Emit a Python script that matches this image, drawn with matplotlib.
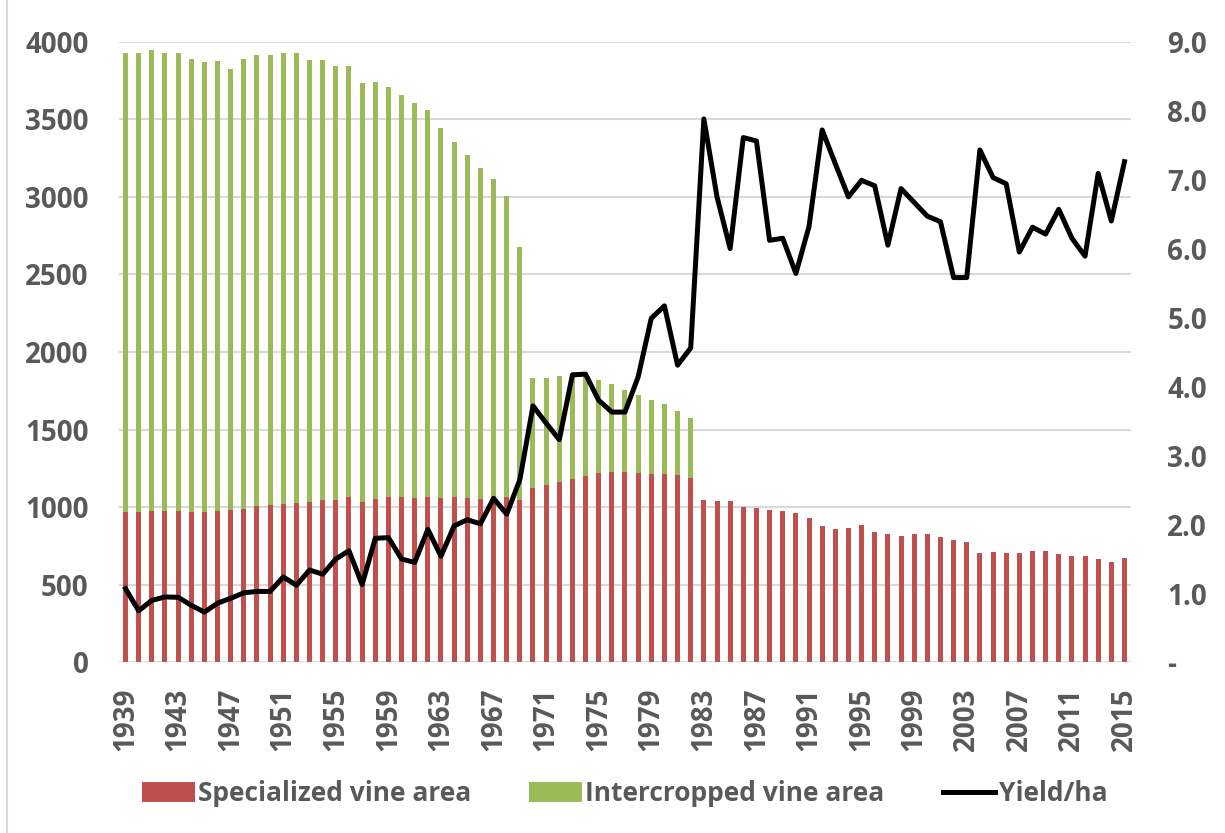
import numpy as np
import matplotlib
matplotlib.use("Agg")
import matplotlib.pyplot as plt
from matplotlib.lines import Line2D

plt.rcParams['font.family'] = ['Open Sans', 'DejaVu Sans']
plt.rcParams['font.weight'] = 'bold'

years = list(range(1939, 2016))

specialized = [967, 967, 978, 974, 978, 969, 969, 974, 984, 991,
               1008, 1014, 1023, 1025, 1036, 1047, 1047, 1068, 1036, 1053,
               1064, 1068, 1062, 1066, 1062, 1064, 1062, 1055, 1068, 1068,
               1047, 1126, 1143, 1163, 1182, 1201, 1219, 1227, 1227, 1221,
               1216, 1216, 1208, 1190, 1047, 1038, 1038, 1004, 993, 984,
               974, 961, 933, 879, 858, 866, 886, 839, 828, 817,
               826, 826, 806, 787, 778, 705, 710, 705, 703, 720,
               720, 701, 684, 684, 665, 647, 671]

intercropped = [2963, 2961, 2965, 2950, 2950, 2916, 2903, 2900, 2837, 2894,
                2905, 2903, 2907, 2905, 2845, 2834, 2797, 2776, 2699, 2688,
                2641, 2587, 2544, 2491, 2383, 2289, 2205, 2130, 2044, 1937,
                1629, 705, 688, 680, 668, 649, 599, 569, 526, 502,
                473, 447, 414, 383] + [0] * 33

yield_ha = [1.07, 0.75, 0.90, 0.95, 0.945, 0.83, 0.73, 0.86, 0.93, 1.01,
            1.03, 1.03, 1.24, 1.12, 1.34, 1.28, 1.50, 1.62, 1.13, 1.80,
            1.81, 1.50, 1.45, 1.93, 1.54, 1.98, 2.07, 2.01, 2.38, 2.15,
            2.65, 3.72, 3.47, 3.23, 4.17, 4.18, 3.80, 3.63, 3.63, 4.14,
            4.99, 5.17, 4.31, 4.56, 7.88, 6.75, 6.00, 7.61, 7.56, 6.12,
            6.15, 5.64, 6.32, 7.72, 7.23, 6.75, 6.99, 6.91, 6.05, 6.87,
            6.67, 6.47, 6.39, 5.58, 5.58, 7.43, 7.03, 6.94, 5.95, 6.31,
            6.21, 6.57, 6.15, 5.89, 7.09, 6.40, 7.26]

left_ticks = [0, 500, 1000, 1500, 2000, 2500, 3000, 3500, 4000]
right_ticks = [0, 1, 2, 3, 4, 5, 6, 7, 8, 9]
right_labels = ['-'] + ['%.1f' % v for v in right_ticks[1:]]

red = '#C0504D'
green = '#9BBB59'
grey_text = '#595959'
grid = '#D9D9D9'

x = np.arange(len(years))

fig = plt.figure(figsize=(12.25, 8.33), dpi=100)
ax = fig.add_axes([0.0971, 0.2047, 0.8262, 0.7453])

ax.bar(x, specialized, width=0.38, color=red, label='Specialized vine area', zorder=2)
ax.bar(x, intercropped, width=0.38, bottom=specialized, color=green,
       label='Intercropped vine area', zorder=2)

ax.set_xlim(-0.5, len(years) - 0.5)
ax.set_ylim(0, 4000)
ax.set_yticks(left_ticks)
ax.yaxis.grid(True, color=grid, linewidth=1.5, zorder=0)
ax.set_axisbelow(True)
for s in ax.spines.values():
    s.set_visible(False)

ax.set_xticks(x[::4])
ax.set_xticklabels([str(y) for y in years[::4]], rotation=90)
ax.tick_params(axis='x', length=0, pad=18, labelsize=20, labelcolor=grey_text)
ax.tick_params(axis='y', length=0, pad=22, labelsize=20, labelcolor=grey_text)

ax2 = ax.twinx()
ax2.plot(x, yield_ha, color='black', linewidth=3.6, solid_joinstyle='round',
         label='Yield/ha', zorder=3)
ax2.set_ylim(0, 9)
ax2.set_yticks(right_ticks)
ax2.set_yticklabels(right_labels)
ax2.tick_params(axis='y', length=0, pad=26, labelsize=20, labelcolor=grey_text)
for s in ax2.spines.values():
    s.set_visible(False)

handles = [ax.patches[0], ax.containers[1].patches[0], ax2.lines[0]]
leg = fig.legend(handles, ['Specialized vine area', 'Intercropped vine area', 'Yield/ha'],
                 loc='center', bbox_to_anchor=(0.51, 0.047), ncol=3, frameon=False,
                 fontsize=19, handlelength=2.0, handleheight=0.75, handletextpad=0.12,
                 columnspacing=2.2)
for t in leg.get_texts():
    t.set_color(grey_text)

# chart area border on the left edge
fig.add_artist(Line2D([0.0057, 0.0057], [0, 1], color=grid, linewidth=1.5))

fig.savefig('out.png', dpi=100)
